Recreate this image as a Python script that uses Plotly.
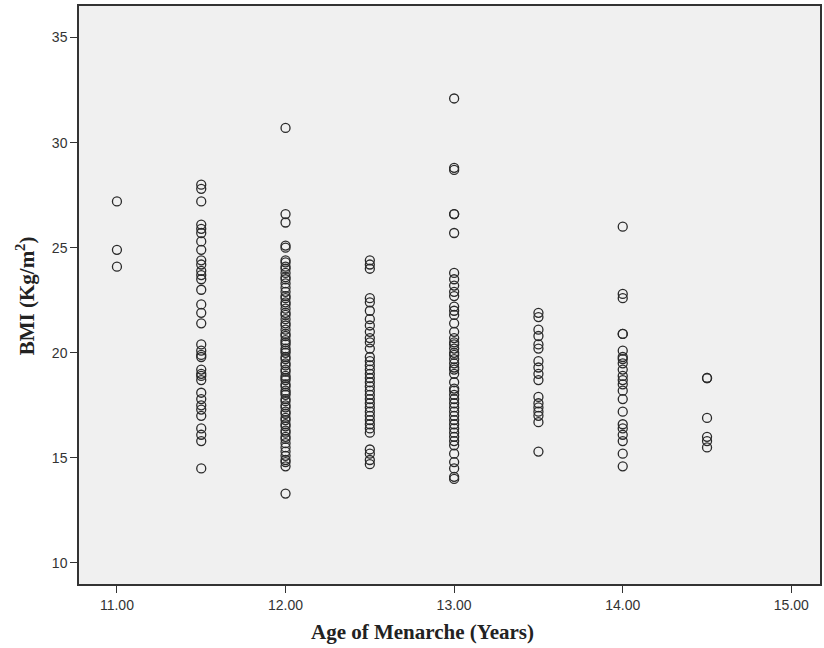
import plotly.graph_objects as go

ages = [11.0, 11.5, 12.0, 12.5, 13.0, 13.5, 14.0, 14.5]

bmi_110 = [27.2, 24.9, 24.1]
bmi_115 = [28.0, 27.8, 27.2, 26.1, 25.9, 25.7, 25.3, 24.9, 24.4, 24.2, 23.9, 23.7,
           23.5, 23.0, 22.3, 21.9, 21.4, 20.4, 20.1, 19.9, 19.8, 19.2, 19.0, 18.9,
           18.7, 18.1, 17.8, 17.5, 17.3, 17.0, 16.4, 16.1, 15.8, 14.5]
bmi_120 = [30.7, 26.6, 26.2, 25.1, 25.0, 24.4, 24.3, 24.1, 24.0, 23.8, 23.6, 23.5,
           23.3, 23.1, 22.9, 22.7, 22.6, 22.4, 22.3, 22.1, 21.9, 21.8, 21.6, 21.4,
           21.3, 21.1, 20.9, 20.8, 20.6, 20.5, 20.4, 20.2, 20.1, 20.0, 19.8, 19.7,
           19.5, 19.4, 19.2, 19.1, 18.9, 18.8, 18.7, 18.5, 18.4, 18.2, 18.1, 18.0,
           17.8, 17.7, 17.5, 17.4, 17.2, 17.1, 16.9, 16.8, 16.6, 16.5, 16.3, 16.2,
           16.0, 15.9, 15.7, 15.5, 15.3, 15.1, 14.9, 14.8, 14.6, 13.3]
bmi_125 = [24.4, 24.2, 24.0, 22.6, 22.4, 22.0, 21.6, 21.3, 21.0, 20.7, 20.5, 20.2,
           19.8, 19.6, 19.4, 19.2, 19.0, 18.8, 18.6, 18.4, 18.2, 18.0, 17.8, 17.6,
           17.4, 17.2, 17.0, 16.8, 16.6, 16.4, 16.2, 15.4, 15.2, 14.9, 14.7]
bmi_130 = [32.1, 28.8, 28.7, 26.6, 26.6, 25.7, 23.8, 23.5, 23.2, 22.9, 22.7, 22.2,
           22.0, 21.8, 21.4, 21.0, 20.7, 20.5, 20.4, 20.2, 20.0, 19.9, 19.7, 19.5,
           19.3, 19.2, 19.0, 18.6, 18.3, 18.2, 18.0, 17.8, 17.6, 17.4, 17.2, 17.0,
           16.8, 16.6, 16.4, 16.2, 16.0, 15.8, 15.6, 15.2, 14.8, 14.5, 14.1, 14.0]
bmi_135 = [21.9, 21.7, 21.1, 20.8, 20.4, 20.2, 19.6, 19.3, 19.0, 18.7, 17.9, 17.6,
           17.4, 17.2, 17.0, 16.7, 15.3]
bmi_140 = [26.0, 22.8, 22.6, 20.9, 20.9, 20.1, 19.8, 19.7, 19.5, 19.2, 18.9, 18.7,
           18.5, 18.2, 17.8, 17.2, 16.6, 16.4, 16.1, 15.8, 15.2, 14.6]
bmi_145 = [18.8, 18.8, 16.9, 16.0, 15.8, 15.5]

groups = [bmi_110, bmi_115, bmi_120, bmi_125, bmi_130, bmi_135, bmi_140, bmi_145]

x_ticks = [11, 12, 13, 14, 15]
y_ticks = [10, 15, 20, 25, 30, 35]
x_title = "Age of Menarche (Years)"
y_title = "BMI (Kg/m<sup>2</sup>)"

x_vals = []
y_vals = []
for a, g in zip(ages, groups):
    x_vals += [a] * len(g)
    y_vals += g

fig = go.Figure()
fig.add_trace(go.Scatter(
    x=x_vals, y=y_vals, mode="markers",
    marker=dict(symbol="circle-open", size=9, color="#2a2a2a", line=dict(width=1.3)),
    showlegend=False, hoverinfo="x+y",
))

serif = "Liberation Serif, Times New Roman, serif"
fig.update_layout(
    width=824, height=648,
    margin=dict(l=79, r=2, t=6, b=64),
    paper_bgcolor="white",
    plot_bgcolor="#f0f0f0",
    font=dict(family="Liberation Sans, Arial, sans-serif", size=14, color="#333"),
    annotations=[
        dict(text="<b>" + x_title + "</b>", xref="paper", yref="paper",
             x=0.464, y=-0.083, xanchor="center", yanchor="middle", showarrow=False,
             font=dict(family=serif, size=21, color="#222")),
        dict(text="<b>" + y_title + "</b>", xref="paper", yref="paper",
             x=-0.0727, y=0.498, xanchor="center", yanchor="middle", showarrow=False,
             textangle=-90, font=dict(family=serif, size=21, color="#222")),
    ],
)
fig.update_xaxes(
    range=[10.775, 15.17], tickvals=x_ticks, tickformat=".2f",
    showgrid=False, zeroline=False,
    showline=True, linecolor="#333", linewidth=1.5, mirror=True,
    ticks="outside", ticklen=7, tickcolor="#333",
    tickfont=dict(size=14, color="#333"),
)
fig.update_yaxes(
    range=[9.0, 36.5], tickvals=y_ticks,
    showgrid=False, zeroline=False,
    showline=True, linecolor="#333", linewidth=1.5, mirror=True,
    ticks="outside", ticklen=7, tickcolor="#333",
    tickfont=dict(size=14, color="#333"),
)

fig.write_html("out.html")
